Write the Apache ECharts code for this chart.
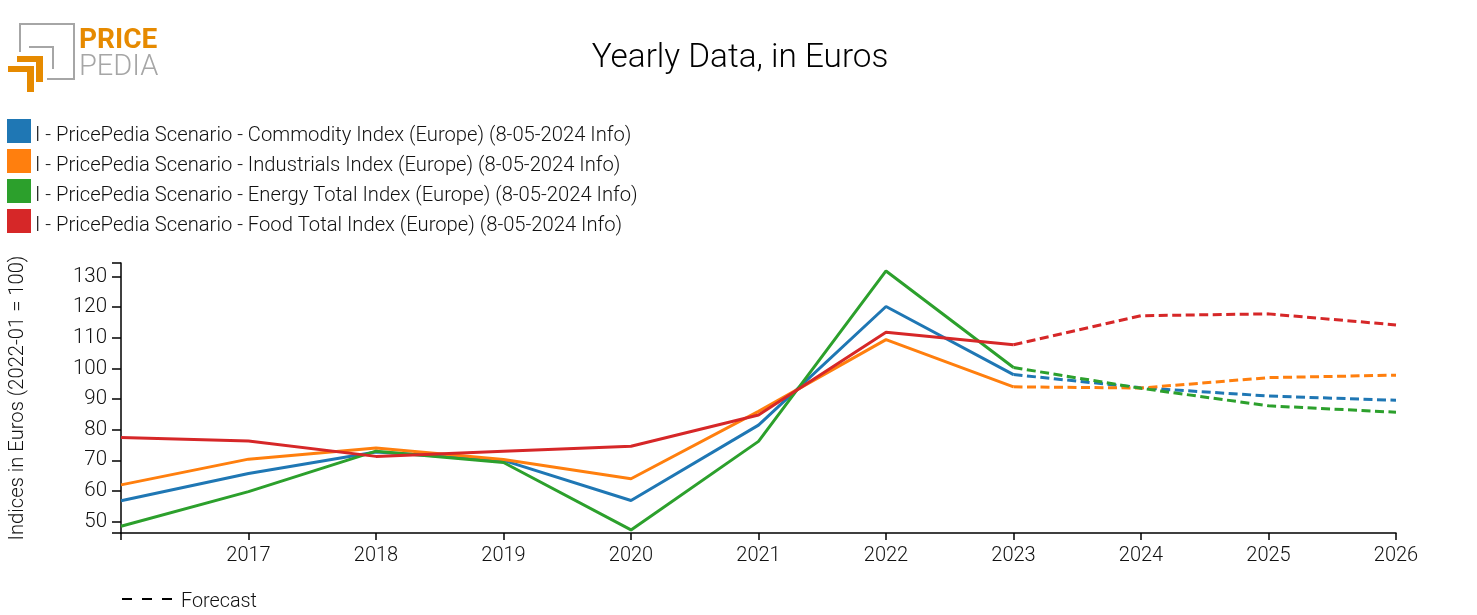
<!DOCTYPE html>
<html><head><meta charset="utf-8">
<script src="https://cdn.jsdelivr.net/npm/echarts@6/dist/echarts.min.js"></script>
<style>html,body{margin:0;padding:0;background:#fff}#c{width:1477px;height:615px}</style>
</head><body><div id="c"></div>
<script>
const years = ['', '2017', '2018', '2019', '2020', '2021', '2022', '2023', '2024', '2025', '2026'];
const commodity = [56.8, 65.7, 72.7, 70.0, 56.9, 81.5, 120.2, 98.0, 93.7, 91.0, 89.6];
const industrials = [62.0, 70.4, 74.0, 70.3, 64.0, 86.0, 109.4, 94.0, 93.6, 97.0, 97.8];
const energy = [48.5, 59.8, 73.0, 69.3, 47.3, 76.2, 131.8, 100.3, 93.5, 87.8, 85.7];
const food = [77.5, 76.3, 71.3, 73.0, 74.6, 84.8, 111.8, 107.7, 117.2, 117.8, 114.2];
const names = [
  'I - PricePedia Scenario - Commodity Index (Europe) (8-05-2024 Info)',
  'I - PricePedia Scenario - Industrials Index (Europe) (8-05-2024 Info)',
  'I - PricePedia Scenario - Energy Total Index (Europe) (8-05-2024 Info)',
  'I - PricePedia Scenario - Food Total Index (Europe) (8-05-2024 Info)'
];
const colors = ['#1f77b4', '#ff7f0e', '#2ca02c', '#d62728'];
const yLabels = [50, 60, 70, 80, 90, 100, 110, 120, 130];
const yMin = 46.3, yMax = 134.4;
const lastActual = 7;
const FONT = 'Roboto';

const allSeries = [commodity, industrials, energy, food];
const series = [];
allSeries.forEach((vals, i) => {
  series.push({
    name: names[i], type: 'line', symbol: 'none', z: 3 + i, animation: false,
    data: vals.map((v, k) => k <= lastActual ? v : null),
    itemStyle: {color: colors[i]},
    lineStyle: {color: colors[i], width: 3}
  });
  series.push({
    name: names[i] + ' forecast', type: 'line', symbol: 'none', z: 3 + i, animation: false,
    data: vals.map((v, k) => k >= lastActual ? v : null),
    itemStyle: {color: colors[i]},
    lineStyle: {color: colors[i], width: 3, type: [9, 4.5]}
  });
});

const grey = '#a6a6a6', orange = '#e68a00';
const chart = echarts.init(document.getElementById('c'), null, {renderer: 'canvas'});
chart.setOption({
  animation: false,
  backgroundColor: '#fff',
  title: {
    text: 'Yearly Data, in Euros', left: 740, top: 42, padding: 0, textAlign: 'center',
    textStyle: {fontFamily: FONT, fontWeight: 300, fontSize: 33.3, color: '#000'}
  },
  legend: {
    orient: 'vertical', left: 7, top: 119, padding: 0, itemWidth: 24, itemHeight: 34, itemGap: -4,
    icon: 'path://M0 0H24V24H0Z M0 34H0.01V34Z', data: names, selectedMode: false,
    textStyle: {fontFamily: FONT, fontWeight: 300, fontSize: 20.2, color: '#111', padding: [0, 0, 0, -1]}
  },
  grid: {left: 121, right: 81, top: 263, bottom: 82, outerBoundsMode: 'none'},
  xAxis: {
    type: 'category', data: years, boundaryGap: false,
    axisLine: {lineStyle: {color: '#000', width: 1.5}},
    axisTick: {show: true, length: 7, alignWithLabel: true, interval: 0, lineStyle: {color: '#000', width: 1.5}},
    axisLabel: {interval: 0, margin: 13, hideOverlap: false, fontFamily: FONT, fontWeight: 300, fontSize: 20, color: '#111'}
  },
  yAxis: {
    type: 'value', min: yMin, max: yMax,
    name: 'Indices in Euros (2022-01 = 100)', nameLocation: 'middle', nameGap: 93,
    nameTextStyle: {fontFamily: FONT, fontWeight: 300, fontSize: 20.2, color: '#111'},
    splitLine: {show: false},
    axisLine: {show: true, lineStyle: {color: '#000', width: 1.5}},
    axisTick: {show: true, length: 9, customValues: [yMin, ...yLabels, yMax], lineStyle: {color: '#000', width: 1.5}},
    axisLabel: {customValues: yLabels, margin: 14, fontFamily: FONT, fontWeight: 300, fontSize: 20.5, color: '#111'}
  },
  series,
  graphic: [
    {type: 'polyline', shape: {points: [[20, 52], [20, 24], [74, 24], [74, 79], [47, 79]]}, style: {stroke: grey, lineWidth: 2, fill: null}},
    {type: 'polyline', shape: {points: [[29, 47], [53, 47], [53, 69]]}, style: {stroke: grey, lineWidth: 2, fill: null}},
    {type: 'polygon', shape: {points: [[17, 56], [43, 56], [43, 82], [36, 82], [36, 62], [17, 62]]}, style: {fill: orange}},
    {type: 'polygon', shape: {points: [[8, 66], [34, 66], [34, 92], [27, 92], [27, 72], [8, 72]]}, style: {fill: orange}},
    {type: 'text', left: 79, top: 27, style: {text: 'PRICE', fill: orange, font: 'bold 28px Roboto'}},
    {type: 'text', left: 79, top: 53, style: {text: 'PEDIA', fill: grey, font: '300 29px Roboto'}},
    {type: 'line', shape: {x1: 122, y1: 599, x2: 172, y2: 599}, style: {stroke: '#000', lineWidth: 2, lineDash: [10, 10]}},
    {type: 'text', left: 181, top: 592, style: {text: 'Forecast', fill: '#111', font: '300 19.8px Roboto'}}
  ]
});
</script></body></html>
